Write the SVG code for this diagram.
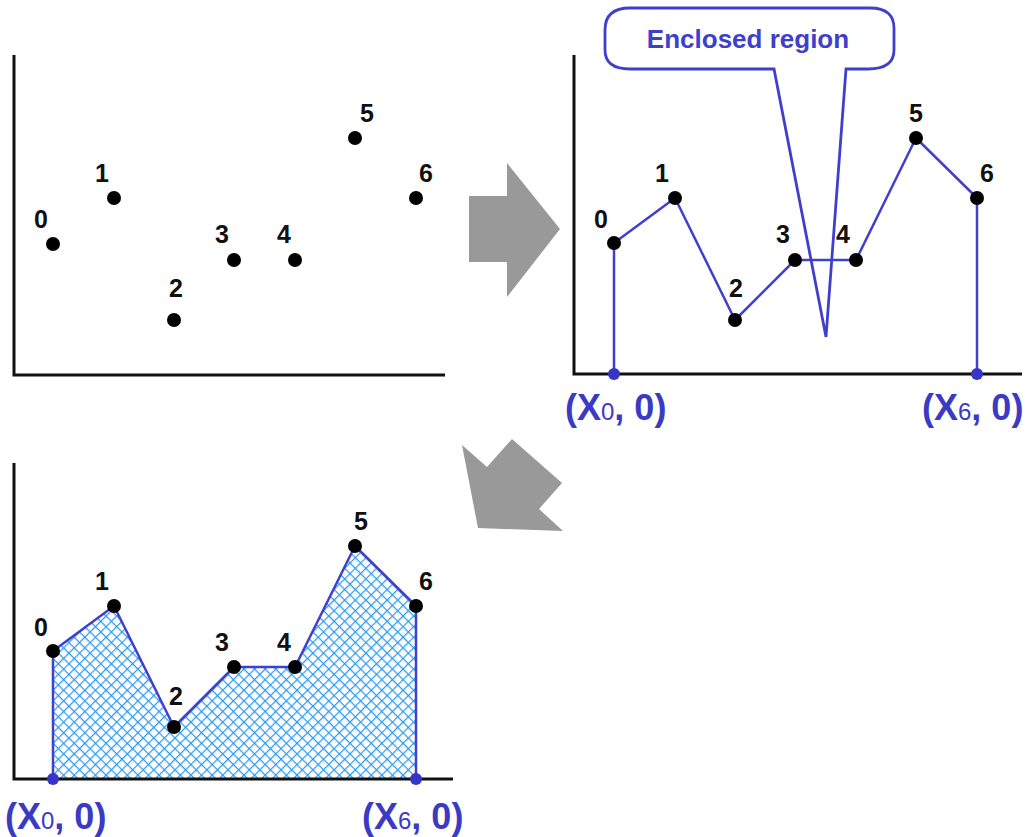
<svg xmlns="http://www.w3.org/2000/svg" width="1036" height="837" viewBox="0 0 1036 837">
<style>
.axis{fill:none;stroke:#111;stroke-width:3}
.line{fill:none;stroke:#4040cc;stroke-width:2.5;stroke-linejoin:round}
.dot{fill:#000}
.bdot{fill:#3535c8}
.lbl{font-family:"Liberation Sans",Arial,sans-serif;font-weight:bold;font-size:25px;fill:#111}
.coord{font-family:"Liberation Sans",Arial,sans-serif;font-weight:bold;font-size:36px;fill:#3a3ac4}
.sub{font-size:24px;font-weight:normal}
.arrow{fill:#999}
</style>
<defs>
<pattern id="hatch" patternUnits="userSpaceOnUse" width="7.5" height="7.5" patternTransform="rotate(45)">
<rect width="7.5" height="7.5" fill="#fff"/>
<line x1="0" y1="0" x2="0" y2="7.5" stroke="#2a98f2" stroke-width="2.4"/>
<line x1="0" y1="0" x2="7.5" y2="0" stroke="#2a98f2" stroke-width="2.4"/>
</pattern>
</defs>

<g id="chart1">
<polyline class="axis" points="14,55 14,375 445,375"/>
<circle class="dot" cx="53" cy="244" r="7"/>
<circle class="dot" cx="114" cy="198" r="7"/>
<circle class="dot" cx="174" cy="320" r="7"/>
<circle class="dot" cx="234" cy="260" r="7"/>
<circle class="dot" cx="295" cy="260" r="7"/>
<circle class="dot" cx="355" cy="138" r="7"/>
<circle class="dot" cx="416" cy="198" r="7"/>
<text class="lbl" x="34" y="228">0</text>
<text class="lbl" x="95" y="182">1</text>
<text class="lbl" x="169" y="297">2</text>
<text class="lbl" x="215" y="243">3</text>
<text class="lbl" x="277" y="243">4</text>
<text class="lbl" x="360" y="122">5</text>
<text class="lbl" x="419" y="182">6</text>
</g>

<g id="arrow1">
<polygon class="arrow" points="469,196 507,196 507,163 560,229 507,297 507,262 469,262"/>
</g>

<g id="chart2">
<polyline class="axis" points="574,55 574,374 1022,374"/>
<polyline class="line" points="614,374 614,243 675,198 735,320 795,260 856,260 916,138 977,198 977,374"/>
<circle class="dot" cx="614" cy="243" r="7"/>
<circle class="dot" cx="675" cy="198" r="7"/>
<circle class="dot" cx="735" cy="320" r="7"/>
<circle class="dot" cx="795" cy="260" r="7"/>
<circle class="dot" cx="856" cy="260" r="7"/>
<circle class="dot" cx="916" cy="138" r="7"/>
<circle class="dot" cx="977" cy="198" r="7"/>
<circle class="bdot" cx="614" cy="374" r="6"/>
<circle class="bdot" cx="977" cy="374" r="6"/>
<text class="lbl" x="594" y="228">0</text>
<text class="lbl" x="655" y="182">1</text>
<text class="lbl" x="729" y="297">2</text>
<text class="lbl" x="776" y="243">3</text>
<text class="lbl" x="836" y="243">4</text>
<text class="lbl" x="909" y="122">5</text>
<text class="lbl" x="980" y="182">6</text>
<text class="coord" x="565" y="420">(X<tspan class="sub">0</tspan>, 0)</text>
<text class="coord" x="922" y="420">(X<tspan class="sub">6</tspan>, 0)</text>
</g>

<g id="callout">
<path d="M630,8 L870,8 Q895,8 894,30 L894,50 Q894,69 868,69 L846,69 L826,337 L774,69 L630,69 Q605,69 605,50 L605,30 Q605,8 630,8 Z" fill="none" stroke="#3f3fcc" stroke-width="2.8" stroke-linejoin="miter"/>
<text x="748" y="48" text-anchor="middle" font-family="'Liberation Sans',Arial,sans-serif" font-weight="bold" font-size="26" fill="#3f3fcc">Enclosed region</text>
</g>

<g id="arrow2">
<polygon class="arrow" points="462,445 487,467 512,439 562,483 539,509 563,531 478,528"/>
</g>

<g id="chart3">
<polygon points="53,779 53,651 114,606 174,727 234,667 295,667 355,546 416,606 416,779" fill="url(#hatch)"/>
<polyline class="axis" points="14,463 14,779 453,779"/>
<polyline class="line" points="53,779 53,651 114,606 174,727 234,667 295,667 355,546 416,606 416,779"/>
<circle class="dot" cx="53" cy="651" r="7"/>
<circle class="dot" cx="114" cy="606" r="7"/>
<circle class="dot" cx="174" cy="727" r="7"/>
<circle class="dot" cx="234" cy="667" r="7"/>
<circle class="dot" cx="295" cy="667" r="7"/>
<circle class="dot" cx="355" cy="546" r="7"/>
<circle class="dot" cx="416" cy="606" r="7"/>
<circle class="bdot" cx="53" cy="779" r="6"/>
<circle class="bdot" cx="416" cy="779" r="6"/>
<text class="lbl" x="34" y="636">0</text>
<text class="lbl" x="95" y="590">1</text>
<text class="lbl" x="169" y="705">2</text>
<text class="lbl" x="215" y="651">3</text>
<text class="lbl" x="277" y="651">4</text>
<text class="lbl" x="354" y="530">5</text>
<text class="lbl" x="419" y="590">6</text>
<text class="coord" x="5" y="829">(X<tspan class="sub">0</tspan>, 0)</text>
<text class="coord" x="362" y="829">(X<tspan class="sub">6</tspan>, 0)</text>
</g>
</svg>
